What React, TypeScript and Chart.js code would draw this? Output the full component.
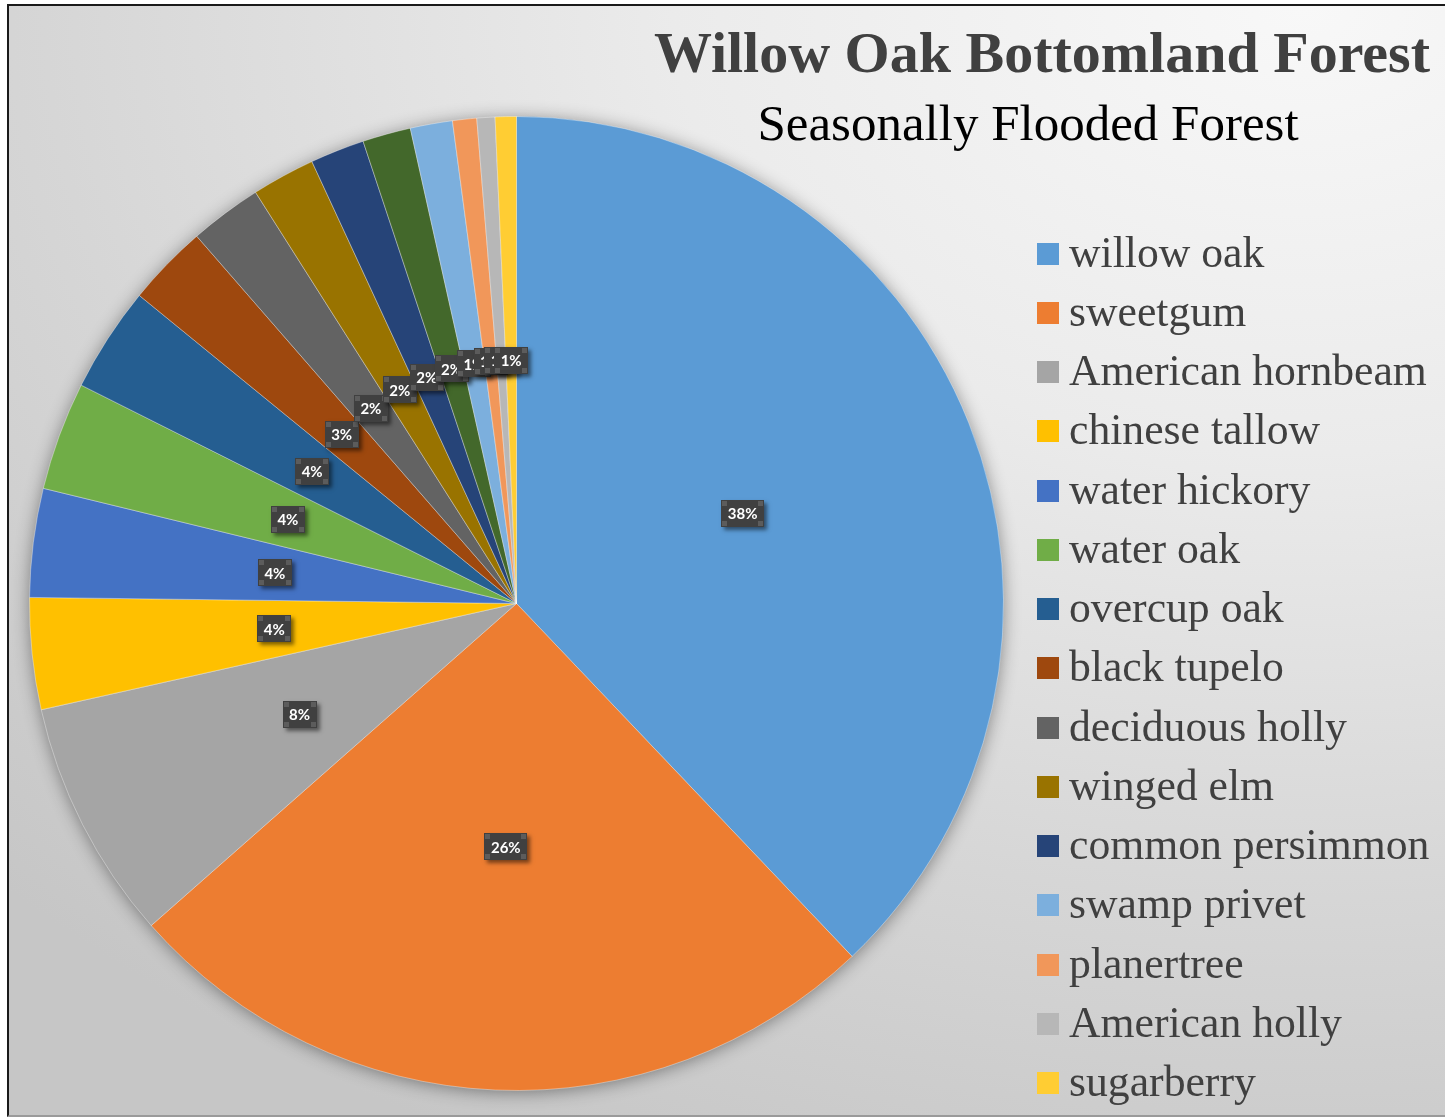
import React, { useEffect, useRef } from 'react';
import { Chart, registerables } from 'chart.js';

Chart.register(...registerables);

const titleText = 'Willow Oak Bottomland Forest';
const subtitleText = 'Seasonally Flooded Forest';

const species = [
  'willow oak',
  'sweetgum',
  'American hornbeam',
  'chinese tallow',
  'water hickory',
  'water oak',
  'overcup oak',
  'black tupelo',
  'deciduous holly',
  'winged elm',
  'common persimmon',
  'unlisted species',
  'swamp privet',
  'planertree',
  'American holly',
  'sugarberry',
];

const shares = [37.9, 25.6, 8.0, 3.7, 3.6, 3.6, 3.5, 2.7, 2.4, 2.1, 1.8, 1.6, 1.4, 0.8, 0.6, 0.7];

const sliceColors = [
  '#5B9BD5', '#ED7D31', '#A5A5A5', '#FFC000', '#4472C4', '#70AD47',
  '#255E91', '#9E480E', '#636363', '#997300', '#264478', '#43682B',
  '#7CAFDD', '#F1975A', '#B7B7B7', '#FFCD33',
];

const notInLegend = ['unlisted species'];

const pieShadowPlugin = {
  id: 'pieShadow',
  beforeDatasetsDraw(chart: any) {
    const arc = chart.getDatasetMeta(0).data[0];
    if (!arc) return;
    const { x, y, outerRadius } = arc.getProps(['x', 'y', 'outerRadius'], true);
    const ctx = chart.ctx;
    ctx.save();
    ctx.shadowColor = 'rgba(0,0,0,0.45)';
    ctx.shadowBlur = 18;
    ctx.shadowOffsetX = 0;
    ctx.shadowOffsetY = 2;
    ctx.fillStyle = '#888888';
    ctx.beginPath();
    ctx.arc(x, y, outerRadius - 1, 0, Math.PI * 2);
    ctx.fill();
    ctx.restore();
  },
};

const percentLabelPlugin = {
  id: 'percentLabels',
  afterDatasetsDraw(chart: any) {
    const ctx = chart.ctx;
    const meta = chart.getDatasetMeta(0);
    const values = chart.data.datasets[0].data as number[];
    const total = values.reduce((a, b) => a + b, 0);
    meta.data.forEach((el: any, i: number) => {
      const p = el.tooltipPosition(true);
      const text = Math.round((values[i] / total) * 100) + '%';
      ctx.save();
      ctx.font = 'bold 15px Lato, "DejaVu Sans", sans-serif';
      const w = Math.round(ctx.measureText(text).width + 13);
      const h = 27;
      const bx = Math.round(p.x - w / 2);
      const by = Math.round(p.y - h / 2);
      ctx.shadowColor = 'rgba(0,0,0,0.5)';
      ctx.shadowBlur = 4;
      ctx.shadowOffsetX = 3;
      ctx.shadowOffsetY = 3;
      ctx.fillStyle = '#404040';
      ctx.fillRect(bx, by, w, h);
      ctx.shadowColor = 'transparent';
      ctx.fillStyle = '#5c5c5c';
      const s = 5;
      ctx.fillRect(bx + 1, by + 1, s, s);
      ctx.fillRect(bx + w - s - 1, by + 1, s, s);
      ctx.fillRect(bx + 1, by + h - s - 1, s, s);
      ctx.fillRect(bx + w - s - 1, by + h - s - 1, s, s);
      ctx.fillStyle = '#ffffff';
      ctx.textAlign = 'center';
      ctx.textBaseline = 'middle';
      ctx.fillText(text, p.x, p.y + 1);
      ctx.restore();
    });
  },
};

const titleLegendPlugin = {
  id: 'titleLegend',
  afterDraw(chart: any) {
    const ctx = chart.ctx;
    ctx.save();
    // title
    ctx.font = 'bold 58px "Liberation Serif", "Times New Roman", serif';
    ctx.fillStyle = '#404040';
    ctx.textAlign = 'right';
    ctx.textBaseline = 'alphabetic';
    ctx.fillText(titleText, 1421, 66);
    // subtitle
    ctx.font = '51px "Liberation Serif", "Times New Roman", serif';
    ctx.fillStyle = '#000000';
    ctx.textAlign = 'center';
    ctx.fillText(subtitleText, 1019, 134);
    // legend
    const items = species
      .map((name, i) => ({ name, color: sliceColors[i] }))
      .filter((it) => !notInLegend.includes(it.name));
    ctx.font = '43.7px "Liberation Serif", "Times New Roman", serif';
    ctx.textAlign = 'left';
    items.forEach((it, k) => {
      const cy = 247.5 + k * 59.25;
      ctx.fillStyle = it.color;
      ctx.fillRect(1028, Math.round(cy - 11), 22, 22);
      ctx.fillStyle = '#404040';
      ctx.fillText(it.name, 1060, cy + 13);
    });
    ctx.restore();
  },
};

export default function App() {
  const canvasRef = useRef<HTMLCanvasElement | null>(null);

  useEffect(() => {
    if (!canvasRef.current) return;
    const chart = new Chart(canvasRef.current, {
      type: 'pie',
      data: {
        labels: species,
        datasets: [
          {
            data: shares,
            backgroundColor: sliceColors,
            borderColor: 'rgba(255,255,255,0.35)',
            borderWidth: 1,
            hoverOffset: 0,
          },
        ],
      },
      options: {
        responsive: false,
        animation: false,
        events: [],
        layout: { padding: { left: 20, top: 110, right: 441, bottom: 24 } },
        plugins: {
          legend: { display: false },
          tooltip: { enabled: false },
          title: { display: false },
        },
      },
      plugins: [pieShadowPlugin, percentLabelPlugin, titleLegendPlugin],
    });
    return () => chart.destroy();
  }, []);

  return (
    <div
      style={{
        position: 'absolute',
        left: 7,
        top: 4,
        width: 1438,
        height: 1113,
        boxSizing: 'border-box',
        borderLeft: '2px solid #1a1a1a',
        borderTop: '2px solid #1a1a1a',
        borderBottom: '2px solid #9a9a9a',
        background:
          'radial-gradient(ellipse 125% 115% at 90% 0%, #f8f8f8 0%, #ebebeb 35%, #d6d6d6 70%, #c6c6c6 100%)',
        overflow: 'hidden',
      }}
    >
      <canvas
        ref={canvasRef}
        width={1436}
        height={1109}
        style={{ display: 'block', width: 1436, height: 1109 }}
      />
    </div>
  );
}
